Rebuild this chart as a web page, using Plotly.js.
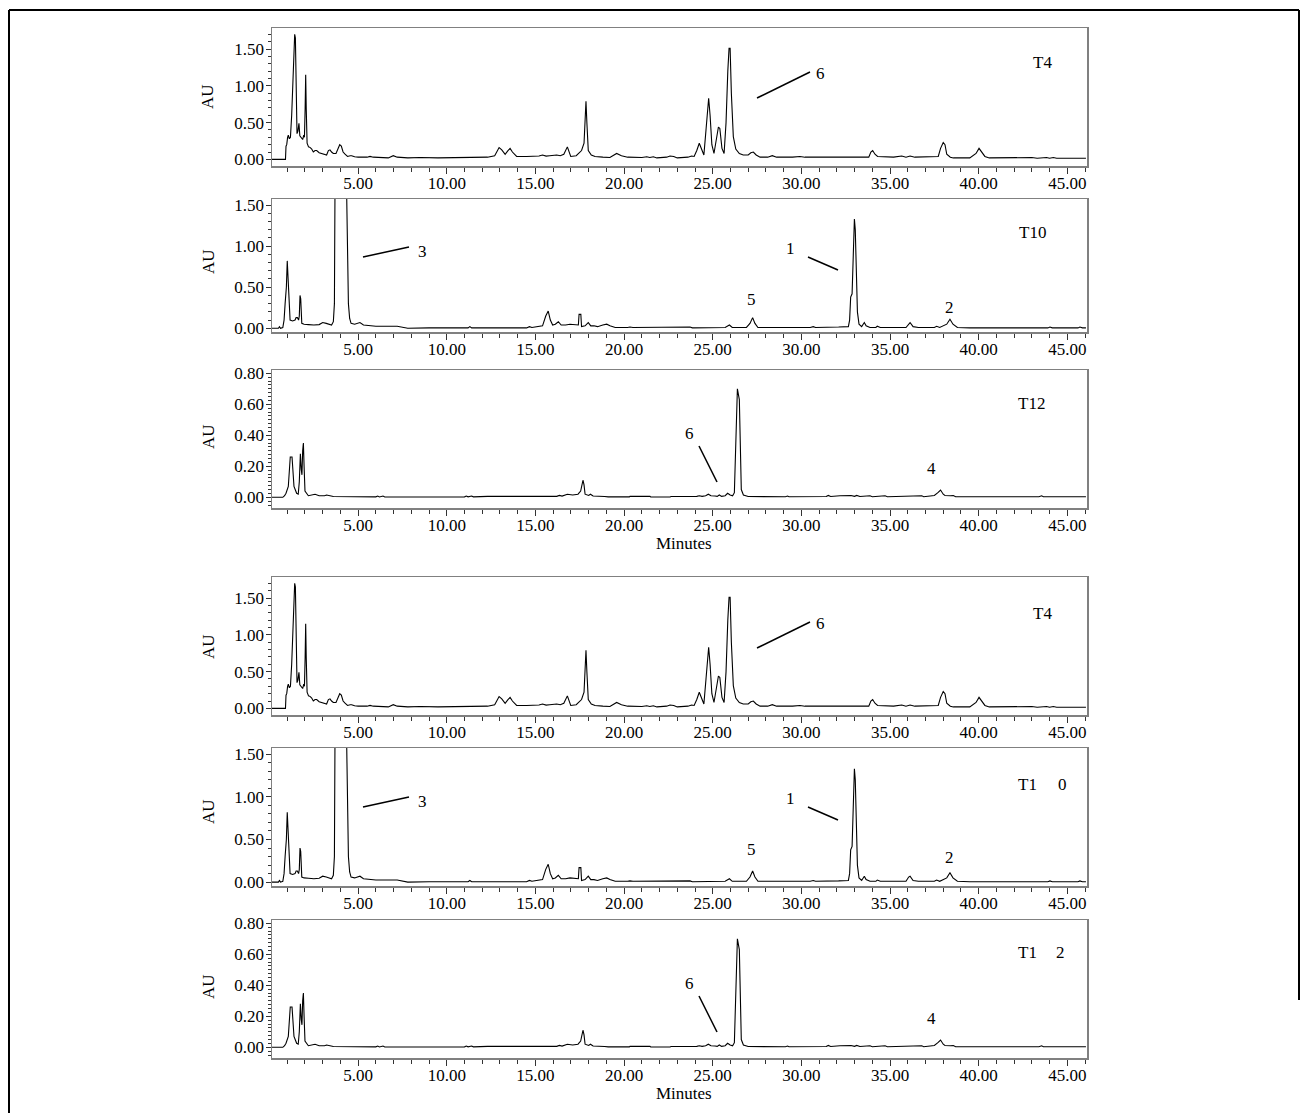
<!DOCTYPE html>
<html><head><meta charset="utf-8">
<script src="https://cdn.plot.ly/plotly-3.0.1.min.js"></script>
<style>html,body{margin:0;padding:0;background:#fff}#chart{width:1308px;height:1113px}</style>
</head><body><div id="chart"></div>
<script>
// Chromatogram readings: [minutes, AU]
const T4 = [[0.1,0],[0.9,0],[0.93,0.18],[0.97,0.2],[1.02,0.3],[1.06,0.33],[1.12,0.28],[1.18,0.3],[1.25,0.6],[1.32,1.0],[1.38,1.5],[1.42,1.70],[1.46,1.65],[1.5,0.8],[1.55,0.35],[1.6,0.38],[1.66,0.49],[1.71,0.32],[1.78,0.29],[1.87,0.27],[1.93,0.33],[1.97,0.3],[2.01,0.7],[2.04,1.15],[2.07,0.7],[2.12,0.22],[2.2,0.17],[2.3,0.16],[2.38,0.14],[2.47,0.1],[2.57,0.12],[2.66,0.12],[2.8,0.09],[2.94,0.08],[3.1,0.07],[3.22,0.06],[3.32,0.12],[3.41,0.13],[3.5,0.1],[3.6,0.08],[3.75,0.08],[3.85,0.15],[3.96,0.2],[4.05,0.18],[4.15,0.1],[4.26,0.07],[4.4,0.04],[4.55,0.05],[4.63,0.05],[4.8,0.035],[5.0,0.03],[5.5,0.03],[5.67,0.04],[5.85,0.03],[6.5,0.03],[6.7,0.02],[6.98,0.05],[7.2,0.03],[7.8,0.02],[8.5,0.025],[9.5,0.02],[10.5,0.025],[11.5,0.025],[12.3,0.03],[12.7,0.05],[12.95,0.16],[13.1,0.13],[13.29,0.07],[13.45,0.12],[13.57,0.15],[13.7,0.1],[13.94,0.04],[14.5,0.04],[15.2,0.045],[15.4,0.06],[15.6,0.045],[15.8,0.05],[16.2,0.06],[16.4,0.05],[16.6,0.07],[16.8,0.17],[16.9,0.1],[16.99,0.04],[17.3,0.05],[17.6,0.12],[17.74,0.22],[17.8,0.6],[17.85,0.79],[17.9,0.5],[17.98,0.12],[18.15,0.06],[18.36,0.04],[18.8,0.03],[19.2,0.025],[19.58,0.08],[19.85,0.05],[20.2,0.03],[21.0,0.025],[21.28,0.035],[21.45,0.025],[21.65,0.035],[21.85,0.02],[22.4,0.03],[22.59,0.045],[22.8,0.04],[23.0,0.02],[23.6,0.03],[23.81,0.045],[23.95,0.04],[24.1,0.12],[24.24,0.22],[24.38,0.12],[24.5,0.06],[24.62,0.4],[24.72,0.8],[24.77,0.83],[24.85,0.6],[24.95,0.2],[25.07,0.08],[25.2,0.25],[25.32,0.44],[25.4,0.42],[25.52,0.15],[25.64,0.08],[25.75,0.5],[25.85,1.2],[25.92,1.51],[25.98,1.51],[26.05,0.9],[26.16,0.31],[26.3,0.14],[26.5,0.08],[26.72,0.06],[27.0,0.06],[27.15,0.09],[27.29,0.1],[27.45,0.06],[27.67,0.03],[28.1,0.03],[28.36,0.05],[28.6,0.03],[29.5,0.03],[29.92,0.04],[30.2,0.03],[31.5,0.03],[32.9,0.03],[33.12,0.035],[33.3,0.03],[33.8,0.03],[33.92,0.1],[34.02,0.12],[34.15,0.07],[34.3,0.04],[35.2,0.03],[35.66,0.045],[35.9,0.03],[36.13,0.045],[36.4,0.03],[37.2,0.03],[37.44,0.04],[37.6,0.03],[37.72,0.04],[37.85,0.15],[38.0,0.23],[38.1,0.2],[38.2,0.07],[38.4,0.03],[38.57,0.02],[39.5,0.02],[39.85,0.08],[40.02,0.15],[40.15,0.1],[40.35,0.04],[40.6,0.02],[41.6,0.02],[41.86,0.03],[42.1,0.02],[42.9,0.02],[43.0,0.025],[43.3,0.015],[43.83,0.025],[44.0,0.015],[44.21,0.025],[44.4,0.015],[46.05,0.015]];

const T10 = [[0.1,0],[0.5,0],[0.56,0.02],[0.62,0],[0.75,0.01],[0.82,0.1],[0.88,0.3],[0.95,0.5],[1.0,0.82],[1.04,0.6],[1.1,0.2],[1.16,0.1],[1.3,0.09],[1.44,0.1],[1.5,0.13],[1.57,0.13],[1.64,0.1],[1.68,0.15],[1.72,0.4],[1.76,0.36],[1.82,0.06],[1.95,0.05],[2.2,0.045],[2.5,0.04],[2.8,0.045],[3.0,0.07],[3.2,0.06],[3.5,0.04],[3.6,0.08],[3.66,0.3],[3.7,2.0],[3.75,3.0],[4.25,3.0],[4.32,2.0],[4.38,1.0],[4.45,0.3],[4.52,0.12],[4.6,0.06],[4.8,0.05],[5.1,0.07],[5.3,0.04],[5.67,0.03],[6.0,0.025],[7.2,0.025],[7.6,0.01],[7.8,0],[9.0,0.005],[11.2,0.005],[11.3,0.02],[11.4,0.005],[14.5,0.005],[14.66,0.02],[14.8,0.01],[15.2,0.02],[15.4,0.03],[15.58,0.15],[15.72,0.21],[15.84,0.1],[15.97,0.04],[16.12,0.05],[16.29,0.08],[16.45,0.04],[16.7,0.04],[16.95,0.05],[17.2,0.04],[17.42,0.04],[17.46,0.17],[17.56,0.17],[17.6,0.02],[17.8,0.03],[17.98,0.07],[18.12,0.03],[18.3,0.03],[18.5,0.02],[18.8,0.04],[19.02,0.05],[19.2,0.03],[19.5,0.01],[20.2,0.01],[20.33,0.015],[20.5,0.01],[21.1,0.01],[21.18,0.015],[21.3,0.01],[22.7,0.01],[22.78,0.015],[23.0,0.01],[23.6,0.01],[23.72,0.015],[23.85,0.005],[24.0,0.005],[24.09,0.012],[24.2,0.01],[25.7,0.01],[25.94,0.04],[26.1,0.01],[26.9,0.01],[27.1,0.06],[27.25,0.13],[27.38,0.06],[27.55,0.01],[30.5,0.01],[30.67,0.02],[30.8,0.01],[32.1,0.015],[32.65,0.02],[32.72,0.1],[32.78,0.38],[32.86,0.42],[32.95,1.1],[32.99,1.33],[33.04,1.2],[33.1,0.7],[33.16,0.2],[33.25,0.05],[33.4,0.02],[33.55,0.07],[33.65,0.03],[33.87,0.01],[34.2,0.01],[34.28,0.025],[34.45,0.01],[35.9,0.01],[36.05,0.06],[36.13,0.07],[36.3,0.02],[36.6,0.01],[37.5,0.01],[37.63,0.025],[37.8,0.01],[38.2,0.05],[38.38,0.11],[38.55,0.05],[38.8,0.01],[39.5,0.005],[43.9,0.005],[44.02,0.015],[44.15,0.005],[45.6,0.005],[45.71,0.015],[45.85,0.005],[46.05,0.005]];

const T12 = [[0.1,0],[0.75,0],[0.85,0.01],[0.93,0.026],[1.06,0.07],[1.12,0.15],[1.17,0.26],[1.27,0.26],[1.32,0.15],[1.38,0.07],[1.53,0.026],[1.62,0.02],[1.68,0.1],[1.74,0.28],[1.79,0.18],[1.83,0.145],[1.87,0.3],[1.91,0.35],[1.95,0.2],[2.0,0.04],[2.19,0.01],[2.4,0.015],[2.57,0.02],[2.8,0.01],[3.1,0.01],[3.22,0.015],[3.4,0.01],[3.6,0.005],[6.0,0.003],[6.1,0.008],[6.2,0.002],[6.4,0.008],[6.5,0.002],[11.0,0.003],[11.1,0.008],[11.2,0.003],[11.4,0.008],[11.5,0.003],[12.3,0.006],[16.2,0.006],[16.35,0.012],[16.5,0.008],[16.8,0.02],[17.1,0.015],[17.4,0.02],[17.55,0.04],[17.68,0.11],[17.74,0.08],[17.8,0.02],[18.0,0.012],[18.1,0.02],[18.25,0.008],[18.9,0.005],[19.0,0.006],[19.1,0.003],[20.3,0.003],[20.33,0.006],[21.46,0.006],[21.5,0.002],[22.59,0.002],[22.65,0.005],[24.1,0.006],[24.24,0.01],[24.4,0.006],[24.6,0.01],[24.75,0.02],[24.9,0.01],[25.13,0.008],[25.25,0.006],[25.37,0.015],[25.5,0.006],[25.7,0.01],[25.84,0.026],[25.98,0.015],[26.12,0.01],[26.22,0.03],[26.3,0.35],[26.39,0.70],[26.5,0.63],[26.56,0.3],[26.61,0.05],[26.73,0.015],[27.0,0.005],[29.1,0.004],[29.22,0.008],[29.3,0.004],[31.4,0.005],[31.52,0.012],[31.65,0.005],[32.18,0.01],[32.6,0.01],[32.8,0.012],[33.0,0.006],[33.12,0.012],[33.3,0.005],[33.87,0.01],[34.0,0.004],[34.72,0.01],[34.85,0.004],[35.94,0.008],[36.05,0.004],[36.79,0.01],[36.9,0.004],[37.26,0.01],[37.5,0.012],[37.7,0.03],[37.85,0.047],[38.0,0.02],[38.1,0.012],[38.4,0.01],[38.57,0.012],[38.7,0.004],[43.4,0.004],[43.55,0.01],[43.65,0.004],[46.05,0.004]];

const xTickVals = [5,10,15,20,25,30,35,40,45];
const xTickText = ['5.00','10.00','15.00','20.00','25.00','30.00','35.00','40.00','45.00'];
const yTickValsHigh = [0,0.5,1.0,1.5];
const yTickTextHigh = ['0.00','0.50','1.00','1.50'];
const yTickValsLow = [0,0.2,0.4,0.6,0.8];
const yTickTextLow = ['0.00','0.20','0.40','0.60','0.80'];
const sampleTraces = [T4, T10, T12, T4, T10, T12];

const W = 1308, H = 1113;
const px = x => x / W;
const py = y => 1 - y / H;
const FONT = 'Liberation Serif, Times New Roman, serif';
const FS = 17;

// panel boxes in pixels [top, bottom]
const boxes = [[28,166],[199,332],[370,508],[577,715],[748,886],[920,1058]];
const yRanges = [[-0.09,1.786],[-0.045,1.573],[-0.069,0.821],[-0.09,1.786],[-0.045,1.573],[-0.069,0.821]];

const data = [];
const layout = {
  width: W, height: H,
  margin: {l:0, r:0, t:0, b:0},
  paper_bgcolor: '#fff', plot_bgcolor: '#fff',
  showlegend: false,
  font: {family: FONT, size: FS, color: '#000'},
  annotations: [], shapes: []
};

sampleTraces.forEach((tr, i) => {
  const n = i + 1;
  const xa = n === 1 ? 'x' : 'x' + n;
  const ya = n === 1 ? 'y' : 'y' + n;
  data.push({
    type: 'scatter', mode: 'lines',
    x: tr.map(p => p[0]), y: tr.map(p => p[1]),
    xaxis: xa, yaxis: ya,
    line: {color: '#000', width: 1.1},
    hoverinfo: 'skip'
  });
  const low = (i % 3) === 2;
  layout['xaxis' + (n === 1 ? '' : n)] = {
    domain: [px(272), px(1087)], anchor: ya,
    range: [0.14, 46.11],
    tickmode: 'array', tickvals: xTickVals, ticktext: xTickText,
    ticks: 'outside', ticklen: 6, tickwidth: 1, tickcolor: '#333',
    ticklabelstandoff: -5,
    minor: {tickmode: 'linear', tick0: 0, dtick: 1, ticks: 'outside', ticklen: 4, tickwidth: 1, tickcolor: '#333'},
    showline: true, mirror: true, linecolor: '#808080', linewidth: 1.5,
    showgrid: false, zeroline: false,
    tickfont: {family: FONT, size: FS, color: '#000'}
  };
  layout['yaxis' + (n === 1 ? '' : n)] = {
    domain: [py(boxes[i][1]), py(boxes[i][0])], anchor: xa,
    range: yRanges[i],
    tickmode: 'array',
    tickvals: low ? yTickValsLow : yTickValsHigh,
    ticktext: low ? yTickTextLow : yTickTextHigh,
    ticks: 'outside', ticklen: 5, tickwidth: 1, tickcolor: '#333',
    ticklabelstandoff: -2,
    minor: {tickmode: 'linear', tick0: 0, dtick: low ? 0.025 : 0.1, ticks: 'outside', ticklen: 3, tickwidth: 1, tickcolor: '#333'},
    showline: true, mirror: true, linecolor: '#808080', linewidth: 1.5,
    showgrid: false, zeroline: false,
    tickfont: {family: FONT, size: FS, color: '#000'}
  };
});

function label(text, x, y, extra) {
  layout.annotations.push(Object.assign({
    text: text, xref: 'paper', yref: 'paper', x: px(x), y: py(y),
    xanchor: 'center', yanchor: 'middle', showarrow: false,
    font: {family: FONT, size: FS, color: '#000'}
  }, extra || {}));
}
function seg(x0, y0, x1, y1, w, c) {
  layout.shapes.push({type: 'line', xref: 'paper', yref: 'paper',
    x0: px(x0), y0: py(y0), x1: px(x1), y1: py(y1),
    line: {color: c || '#000', width: w || 1.5}});
}

// AU axis labels
[97, 262, 437, 647, 812, 987].forEach(y => label('AU', 208, y, {textangle: -90}));

[0, 550].forEach((off, g) => {
  // T4 panel
  label('T4', 1042, 63 + off);
  seg(757, 98 + off, 810, 72 + off);
  label('6', 820, 73 + off);
  // T10 panel
  seg(363, 257 + off, 409, 247 + off);
  label('3', 422, 251 + off);
  label('1', 790, 248 + off);
  seg(808, 257 + off, 838, 270 + off);
  label('5', 751, 299 + off);
  label('2', 949, 307 + off);
  // T12 panel
  label('6', 690, 433 + off);
  seg(699, 446 + off, 717, 482 + off);
  label('4', 931, 468 + off);
  label('Minutes', 684, 543 + off);
  if (g === 0) {
    label('T10', 1032, 233);
    label('T12', 1031, 403);
  } else {
    label('T1', 1027, 784); label('0', 1062, 784);
    label('T1', 1027, 952); label('2', 1060, 952);
  }
});

// outer frame
seg(9, 10, 1299, 10, 2, '#000');
seg(9, 10, 9, 1113, 2, '#000');
seg(1299, 10, 1299, 1000, 2, '#000');

Plotly.newPlot('chart', data, layout, {staticPlot: true, displayModeBar: false});
</script>
</body></html>
